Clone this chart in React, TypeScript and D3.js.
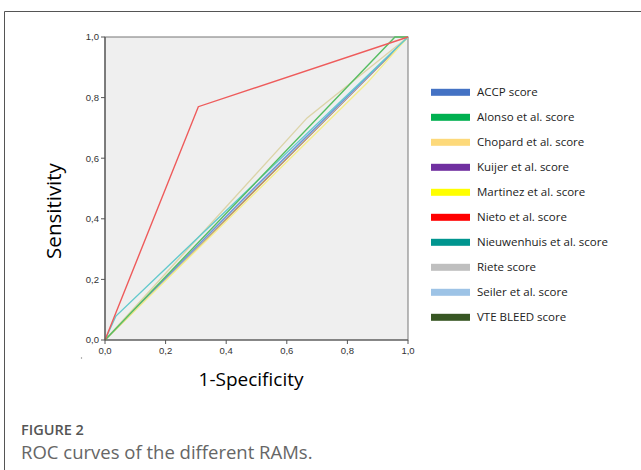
import React from "react";
import * as d3 from "d3";

const seriesNames = [
  "ACCP score",
  "Alonso et al. score",
  "Chopard et al. score",
  "Kuijer et al. score",
  "Martinez et al. score",
  "Nieto et al. score",
  "Nieuwenhuis et al. score",
  "Riete score",
  "Seiler et al. score",
  "VTE BLEED score",
];
const legendColors = ["#4472c4", "#00b050", "#fdd97a", "#7030a0", "#ffff00", "#ff0000", "#00958f", "#bfbfbf", "#9dc3e6", "#375623"];
const lineColors = ["#7393d6", "#55bd62", "#dcd4a8", "#9a7fc0", "#f4ee8c", "#ee5b5b", "#62c9cd", "#c8c8c8", "#a8cbe8", "#c8853c"];

// ROC points per series: [1-specificity, sensitivity]
const accpFpr = [0, 0.5, 1];
const accpTpr = [0, 0.51, 1];
const alonsoFpr = [0, 0.957, 1];
const alonsoTpr = [0, 1, 1];
const chopardFpr = [0, 0.667, 1];
const chopardTpr = [0, 0.733, 1];
const kuijerFpr = [0, 1];
const kuijerTpr = [0, 1];
const martinezFpr = [0, 0.864, 1];
const martinezTpr = [0, 0.847, 1];
const nietoFpr = [0, 0.308, 1];
const nietoTpr = [0, 0.77, 1];
const nieuwFpr = [0, 0.036, 1];
const nieuwTpr = [0, 0.079, 1];
const rieteFpr = [0, 1];
const rieteTpr = [0, 1];
const seilerFpr = [0, 0.5, 1];
const seilerTpr = [0, 0.505, 1];
const vteFpr = [0, 1];
const vteTpr = [0, 1];

const fprs = [accpFpr, alonsoFpr, chopardFpr, kuijerFpr, martinezFpr, nietoFpr, nieuwFpr, rieteFpr, seilerFpr, vteFpr];
const tprs = [accpTpr, alonsoTpr, chopardTpr, kuijerTpr, martinezTpr, nietoTpr, nieuwTpr, rieteTpr, seilerTpr, vteTpr];
const drawOrder = [7, 3, 9, 8, 0, 4, 2, 6, 1, 5];

const tickValues = [0, 0.2, 0.4, 0.6, 0.8, 1.0];
const tickLabels = ["0,0", "0,2", "0,4", "0,6", "0,8", "1,0"];

export default function App() {
  const W = 641, H = 470;
  const x = d3.scaleLinear().domain([0, 1]).range([105, 408]);
  const y = d3.scaleLinear().domain([0, 1]).range([340, 37]);
  const line = d3.line<[number, number]>().x((d) => x(d[0])).y((d) => y(d[1]));

  return (
    <svg width={W} height={H} style={{ position: "absolute", left: 0, top: 0 }}>
      <rect x={0} y={0} width={W} height={H} fill="#fff" />
      <line x1={4.5} y1={11.5} x2={641} y2={11.5} stroke="#555" strokeWidth={1} />
      <line x1={4.5} y1={11.5} x2={4.5} y2={470} stroke="#555" strokeWidth={1} />

      <rect x={x(0)} y={y(1)} width={x(1) - x(0)} height={y(0) - y(1)} fill="#efefef" stroke="#777" strokeWidth={1} />

      {drawOrder.map((i) => {
        const pts = fprs[i].map((f, k) => [f, tprs[i][k]] as [number, number]);
        return <path key={i} d={line(pts) || ""} fill="none" stroke={lineColors[i]} strokeWidth={1.4} />;
      })}

      <line x1={x(0)} y1={y(0)} x2={x(0)} y2={y(1)} stroke="#555" strokeWidth={1.2} />
      <line x1={x(0)} y1={y(0)} x2={x(1)} y2={y(0)} stroke="#555" strokeWidth={1.2} />

      {tickValues.map((v, i) => (
        <g key={"y" + i}>
          <line x1={x(0) - 4} x2={x(0)} y1={y(v)} y2={y(v)} stroke="#555" />
          <text x={x(0) - 6} y={y(v)} dy="0.35em" textAnchor="end" fontFamily="Liberation Sans, Arial" fontSize={9.5} fill="#333">{tickLabels[i]}</text>
        </g>
      ))}
      {tickValues.map((v, i) => (
        <g key={"x" + i}>
          <line x1={x(v)} x2={x(v)} y1={y(0)} y2={y(0) + 4} stroke="#555" />
          <text x={x(v)} y={y(0) + 14} textAnchor="middle" fontFamily="Liberation Sans, Arial" fontSize={9.5} fill="#333">{tickLabels[i]}</text>
        </g>
      ))}
      <circle cx={81.5} cy={358} r={0.7} fill="#888" />

      <text transform={`translate(61,211) rotate(-90)`} textAnchor="middle" fontFamily="Open Sans" fontSize={20.5} fill="#000">Sensitivity</text>
      <text x={251} y={386} textAnchor="middle" fontFamily="Open Sans" fontSize={19} fill="#000">1-Specificity</text>

      {seriesNames.map((n, i) => {
        const cy = 92.3 + i * 25;
        return (
          <g key={"l" + i}>
            <rect x={431} y={cy - 3.5} width={39} height={7} fill={legendColors[i]} />
            <text x={477} y={cy} dy="0.35em" fontFamily="Open Sans" fontSize={11.5} fill="#222">{n}</text>
          </g>
        );
      })}

      <text x={21} y={435} fontFamily="Open Sans" fontWeight={600} fontSize={14.5} fill="#555">FIGURE 2</text>
      <text x={21} y={459} fontFamily="Open Sans" fontSize={18.5} fill="#666">ROC curves of the different RAMs.</text>
    </svg>
  );
}
